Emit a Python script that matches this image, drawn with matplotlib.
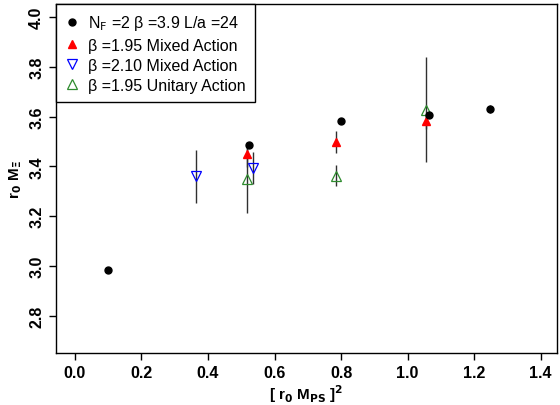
import numpy as np
import matplotlib.pyplot as plt

plt.rcParams["font.family"] = ["Liberation Sans", "DejaVu Sans"]

# N_F=2, beta=3.9, L/a=24
x_nf2 = [0.10, 0.523, 0.801, 1.064, 1.247]
y_nf2 = [2.985, 3.486, 3.581, 3.608, 3.629]
e_nf2 = [0.012, 0.012, 0.012, 0.012, 0.016]

# beta=1.95 mixed action
x_mix195 = [0.517, 0.784, 1.057]
y_mix195 = [3.449, 3.497, 3.581]
e_mix195 = [0.05, 0.043, 0.03]

# beta=2.10 mixed action
x_mix210 = [0.364, 0.534]
y_mix210 = [3.360, 3.394]
e_mix210 = [0.106, 0.065]

# beta=1.95 unitary action
x_uni = [0.517, 0.784, 1.057]
y_uni = [3.349, 3.363, 3.628]
e_uni = [0.137, 0.042, 0.21]

fig, ax = plt.subplots(figsize=(5.6, 4.06), dpi=100)
fig.subplots_adjust(left=0.1, right=0.995, top=0.988, bottom=0.128)

ekw = dict(ecolor="#303030", elinewidth=1.0, capsize=0, linestyle="none")
ax.errorbar(x_uni, y_uni, yerr=e_uni, marker="^", ms=6.5, mfc="none", mec="#2e8b2e",
            mew=0.9, label="β =1.95 Unitary Action", zorder=2, **ekw)
ax.errorbar(x_mix195, y_mix195, yerr=e_mix195, marker="^", ms=5.5, mfc="red", mec="red",
            label="β =1.95 Mixed Action", zorder=3, **ekw)
ax.errorbar(x_mix210, y_mix210, yerr=e_mix210, marker="v", ms=6.5, mfc="none", mec="blue",
            mew=0.9, label="β =2.10 Mixed Action", zorder=3, **ekw)
ax.errorbar(x_nf2, y_nf2, yerr=e_nf2, marker="o", ms=5, mfc="black", mec="black",
            label=r"N$_\mathrm{F}$ =2 β =3.9 L/a =24", zorder=4, **ekw)

ax.set_xlim(-0.057, 1.45)
ax.set_ylim(2.651, 4.052)
ax.set_xticks(np.arange(0, 1.41, 0.2))
ax.set_yticks(np.arange(2.8, 4.01, 0.2))
ax.set_xticklabels([f"{v:.1f}" for v in np.arange(0, 1.41, 0.2)], fontweight="bold", fontsize=11.5)
ax.set_yticklabels([f"{v:.1f}" for v in np.arange(2.8, 4.01, 0.2)], fontweight="bold",
                   fontsize=11.5, rotation=90, va="center")
ax.tick_params(direction="out", length=5, width=1, top=False, right=False)
for s in ax.spines.values():
    s.set_linewidth(1.0)

ax.set_xlabel(r"[ r$_\mathbf{0}$ M$_\mathbf{PS}$ ]$^\mathbf{2}$", fontweight="bold", fontsize=11, labelpad=2)
ax.set_ylabel(r"r$_\mathbf{0}$ M$_\mathbf{\Xi}$", fontweight="bold", fontsize=11, labelpad=4)

handles, labels = ax.get_legend_handles_labels()
order = [3, 1, 2, 0]
leg = ax.legend([handles[i][0] for i in order], [labels[i] for i in order],
                loc="upper left", fancybox=False, edgecolor="black", framealpha=1,
                fontsize=11.5, handlelength=0.8, handletextpad=0.6, borderaxespad=0,
                labelspacing=0.32, borderpad=0.6)
leg.get_frame().set_linewidth(1.0)

plt.savefig("out.png", dpi=100)
